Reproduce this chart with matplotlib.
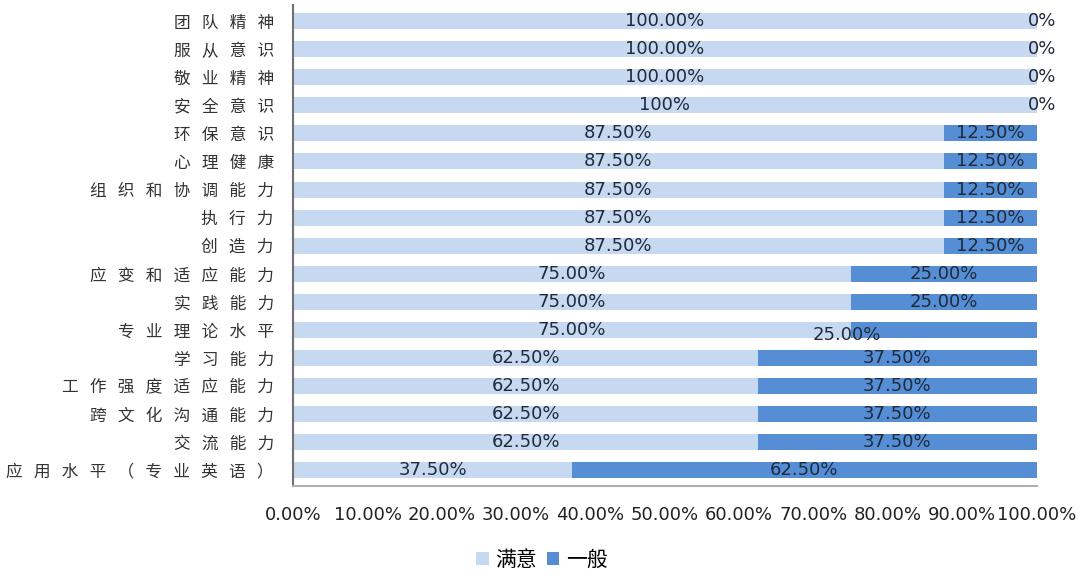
import matplotlib
matplotlib.use("Agg")
import matplotlib.pyplot as plt
import numpy as np

plt.rcParams['font.family'] = ['Noto Sans CJK SC', 'DejaVu Sans']

# categories from top to bottom
categories = ['团队精神', '服从意识', '敬业精神', '安全意识', '环保意识', '心理健康',
              '组织和协调能力', '执行力', '创造力', '应变和适应能力', '实践能力',
              '专业理论水平', '学习能力', '工作强度适应能力', '跨文化沟通能力',
              '交流能力', '应用水平（专业英语）']
satisfied = [100, 100, 100, 100, 87.5, 87.5, 87.5, 87.5, 87.5, 75, 75, 75,
             62.5, 62.5, 62.5, 62.5, 37.5]
general = [0, 0, 0, 0, 12.5, 12.5, 12.5, 12.5, 12.5, 25, 25, 25,
           37.5, 37.5, 37.5, 37.5, 62.5]
sat_labels = ['100.00%', '100.00%', '100.00%', '100%', '87.50%', '87.50%', '87.50%',
              '87.50%', '87.50%', '75.00%', '75.00%', '75.00%', '62.50%', '62.50%',
              '62.50%', '62.50%', '37.50%']
gen_labels = ['0%', '0%', '0%', '0%', '12.50%', '12.50%', '12.50%', '12.50%', '12.50%',
              '25.00%', '25.00%', '25.00%', '37.50%', '37.50%', '37.50%', '37.50%',
              '62.50%']
series_names = ['满意', '一般']
xticks = np.arange(0, 101, 10)

c_light = '#C6D9F1'
c_dark = '#558ED5'
txt_color = '#1F2A3A'

fig = plt.figure(figsize=(10.9, 5.76), dpi=100)
ax = fig.add_axes([0.269, 0.156, 0.682, 0.835])

y = np.arange(len(categories))
h = 0.57
ax.barh(y, satisfied, height=h, color=c_light, label=series_names[0])
ax.barh(y, general, height=h, left=satisfied, color=c_dark, label=series_names[1])

for i in range(len(categories)):
    ax.text(satisfied[i] / 2, y[i], sat_labels[i], ha='center', va='center',
            fontsize=13, color=txt_color, family='DejaVu Sans')
    gx = satisfied[i] + general[i] / 2
    gy = y[i]
    if general[i] == 0:
        gx += 0.7
    if categories[i] == '专业理论水平':
        # this one sits off-centre in the original
        gx = satisfied[i] - 0.5
        gy = y[i] + 0.18
    ax.text(gx, gy, gen_labels[i], ha='center', va='center',
            fontsize=13, color=txt_color, family='DejaVu Sans')

ax.set_ylim(len(categories) - 1 + 0.57, -0.57)
ax.set_xlim(0, 100)
ax.set_xticks(xticks)
ax.set_xticklabels(['%.2f%%' % v for v in xticks], fontsize=13, color='#222222',
                   family='DejaVu Sans')
ax.set_yticks(y)
ax.set_yticklabels(['   '.join(c) for c in categories], fontsize=12, color='#333333')
ax.tick_params(axis='x', length=0, pad=14)
ax.tick_params(axis='y', length=0, pad=14)

for s in ['top', 'right']:
    ax.spines[s].set_visible(False)
ax.spines['left'].set_color('#707070')
ax.spines['left'].set_linewidth(1.5)
ax.spines['bottom'].set_color('#B0B0B0')
ax.spines['bottom'].set_linewidth(1.5)

fig.legend(loc='center', bbox_to_anchor=(0.497, 0.028), ncol=2, frameon=False,
           fontsize=15, handlelength=0.6, handleheight=0.6, handletextpad=0.3,
           columnspacing=0.5)

fig.savefig('out.png', dpi=100)
